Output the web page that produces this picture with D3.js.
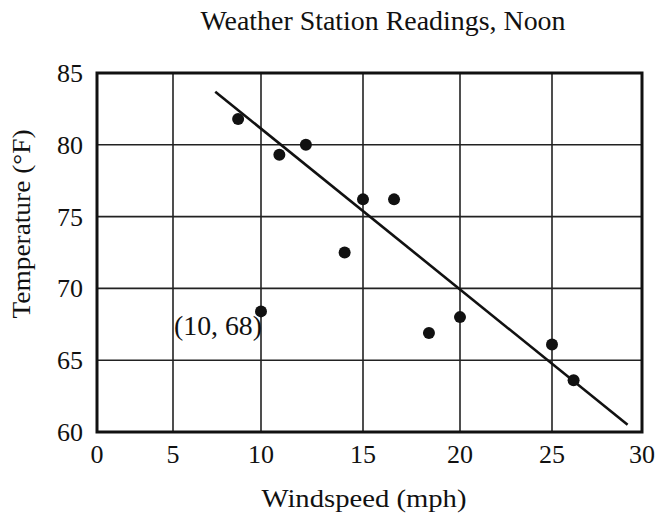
<!DOCTYPE html>
<html>
<head>
<meta charset="utf-8">
<script src="https://cdn.jsdelivr.net/npm/d3@7"></script>
<style>
  body { margin: 0; background: #fff; }
  text { font-family: "Liberation Serif", "DejaVu Serif", serif; fill: #111; }
</style>
</head>
<body>
<div id="chart"></div>
<script>
// data
var windspeed = [8.7, 10.9, 12.2, 14.1, 15.0, 16.6, 10.0, 18.4, 20.0, 25.0, 26.2];
var temperature = [81.8, 79.3, 80.0, 72.5, 76.2, 76.2, 68.4, 66.9, 68.0, 66.1, 63.6];

// trend line end points
var lineX = [7.4, 29.2];
var lineY = [83.7, 60.5];

var xTicks = [0, 5, 10, 15, 20, 25, 30];
var yTicks = [60, 65, 70, 75, 80, 85];

var svgWidth = 661;
var svgHeight = 514;

var svg = d3.select("#chart")
  .append("svg")
  .attr("width", svgWidth)
  .attr("height", svgHeight);

// the original grid is drawn unevenly, so the x scale follows it piece by piece
var xScale = d3.scaleLinear()
  .domain(xTicks)
  .range([97, 173, 261, 363, 460, 552, 642]);

var yScale = d3.scaleLinear()
  .domain([60, 85])
  .range([432, 73]);

// grid lines
svg.append("g")
  .selectAll("line")
  .data(xTicks.slice(1, -1))
  .enter()
  .append("line")
  .attr("x1", d => xScale(d))
  .attr("x2", d => xScale(d))
  .attr("y1", yScale(85))
  .attr("y2", yScale(60))
  .attr("stroke", "#222")
  .attr("stroke-width", 1.6);

svg.append("g")
  .selectAll("line")
  .data(yTicks.slice(1, -1))
  .enter()
  .append("line")
  .attr("x1", xScale(0))
  .attr("x2", xScale(30))
  .attr("y1", d => yScale(d))
  .attr("y2", d => yScale(d))
  .attr("stroke", "#222")
  .attr("stroke-width", 1.6);

// frame
svg.append("rect")
  .attr("x", xScale(0))
  .attr("y", yScale(85))
  .attr("width", xScale(30) - xScale(0))
  .attr("height", yScale(60) - yScale(85))
  .attr("fill", "none")
  .attr("stroke", "#111")
  .attr("stroke-width", 3);

// tick labels
svg.append("g")
  .selectAll("text")
  .data(xTicks)
  .enter()
  .append("text")
  .attr("x", d => xScale(d))
  .attr("y", 463)
  .attr("text-anchor", "middle")
  .style("font-size", "26px")
  .text(d => d);

svg.append("g")
  .selectAll("text")
  .data(yTicks)
  .enter()
  .append("text")
  .attr("x", 83)
  .attr("y", d => yScale(d) + 9)
  .attr("text-anchor", "end")
  .style("font-size", "26px")
  .text(d => d);

// trend line
svg.append("line")
  .attr("x1", xScale(lineX[0]))
  .attr("y1", yScale(lineY[0]))
  .attr("x2", xScale(lineX[1]))
  .attr("y2", yScale(lineY[1]))
  .attr("stroke", "#111")
  .attr("stroke-width", 2.6);

// points
svg.append("g")
  .selectAll("circle")
  .data(windspeed)
  .enter()
  .append("circle")
  .attr("cx", d => xScale(d))
  .attr("cy", (d, i) => yScale(temperature[i]))
  .attr("r", 6)
  .attr("fill", "#111");

// point label
svg.append("text")
  .attr("x", xScale(10) + 1)
  .attr("y", yScale(68.4) + 24)
  .attr("text-anchor", "end")
  .attr("textLength", 88)
  .attr("lengthAdjust", "spacingAndGlyphs")
  .style("font-size", "27px")
  .text("(10, 68)");

// title
svg.append("text")
  .attr("x", 383)
  .attr("y", 30)
  .attr("text-anchor", "middle")
  .attr("textLength", 365)
  .attr("lengthAdjust", "spacingAndGlyphs")
  .style("font-size", "27px")
  .text("Weather Station Readings, Noon");

// axis titles
svg.append("text")
  .attr("x", 364)
  .attr("y", 507)
  .attr("text-anchor", "middle")
  .attr("textLength", 205)
  .attr("lengthAdjust", "spacingAndGlyphs")
  .style("font-size", "26px")
  .text("Windspeed (mph)");

svg.append("text")
  .attr("transform", "translate(30, 224) rotate(-90)")
  .attr("text-anchor", "middle")
  .attr("textLength", 189)
  .attr("lengthAdjust", "spacingAndGlyphs")
  .style("font-size", "26px")
  .text("Temperature (°F)");
</script>
</body>
</html>
